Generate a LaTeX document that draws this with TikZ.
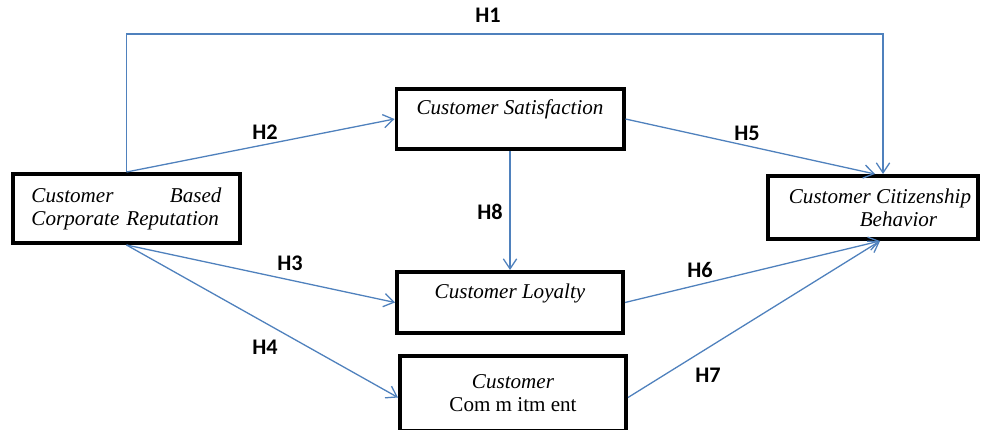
\documentclass[tikz,border=0pt]{standalone}
\usepackage{fontspec}
\setmainfont{Liberation Serif}
\newfontfamily\labelfont{Carlito}
\usetikzlibrary{arrows.meta}

\definecolor{linkblue}{RGB}{79,129,189}

\tikzset{
  construct/.style={draw=black,line width=3.4pt,fill=white,inner sep=0pt,align=center,
    font=\itshape\fontsize{18}{19.6}\selectfont},
  link/.style={draw=linkblue,line width=1.1pt,-{Straight Barb[length=3mm,width=4mm]}},
  hyp/.style={font=\labelfont\bfseries\fontsize{19}{22}\selectfont}
}

\begin{document}
\begin{tikzpicture}[x=0.03cm,y=-0.03cm]
\useasboundingbox (0,0) rectangle (987,430);
\clip (0,0) rectangle (987,430);
\fill[white] (0,0) rectangle (987,430);

% constructs
\node[construct,minimum width=6.81cm,minimum height=2.07cm,text width=5.7cm,align=left] (CBCR) at (126.5,208.5) {Customer\hfill Based\\Corporate Reputation};
\node[construct,minimum width=6.81cm,minimum height=1.8cm] (SAT) at (510,119) {Customer Satisfaction\\~};
\node[construct,minimum width=6.3cm,minimum height=1.89cm] (CCB) at (873,207.5) {\hspace*{0.42cm}Customer Citizenship\\\hspace*{1.53cm}Behavior};
\node[construct,minimum width=6.78cm,minimum height=1.83cm] (LOY) at (510,302.5) {Customer Loyalty\\~};
\node[construct,minimum width=6.78cm,minimum height=2.25cm] (COM) at (513,393.5) {Customer\\\upshape Com m itm ent};

\coordinate (H1top) at (0,34);

% hypotheses
\draw[link] (CBCR.north) -- (CBCR.north |- H1top) -| ([xshift=0.3cm]CCB.north);
\draw[link] (CBCR.north) -- (SAT.west);
\draw[link] (CBCR.south) -- (LOY.west);
\draw[link] (CBCR.south) -- ([yshift=-0.12cm]COM.west);
\draw[link] (SAT.east) -- ([xshift=0.06cm]CCB.north);
\draw[link] (LOY.east) -- ([xshift=0.21cm]CCB.south);
\draw[link] ([yshift=-0.12cm]COM.east) -- ([xshift=0.21cm]CCB.south);
\draw[link] (SAT.south) -- (LOY.north);

\node[hyp] (H1) at (488,15) {H1};
\node[hyp] (H2) at (265,132) {H2};
\node[hyp] (H3) at (290,263) {H3};
\node[hyp] (H4) at (265,347) {H4};
\node[hyp] (H5) at (747,133) {H5};
\node[hyp] (H6) at (700,270) {H6};
\node[hyp] (H7) at (708,375) {H7};
\node[hyp] (H8) at (490,212) {H8};
\end{tikzpicture}
\end{document}
